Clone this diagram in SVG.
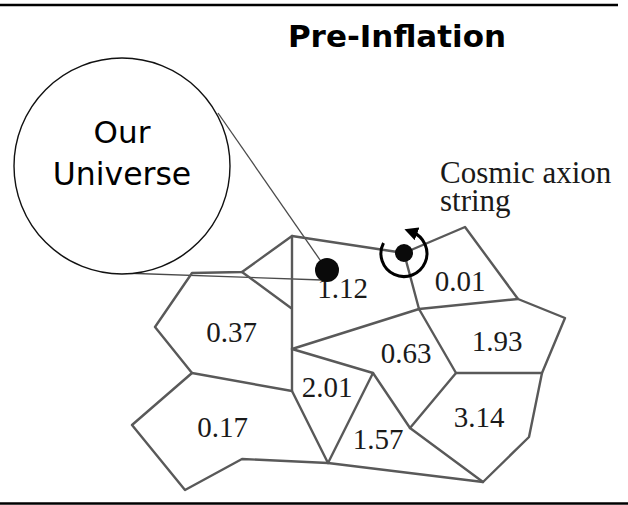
<svg xmlns="http://www.w3.org/2000/svg" width="628" height="505" viewBox="0 0 628 505">
<defs>
<style>
.edge{fill:none;stroke:#595959;stroke-width:2.4;stroke-linejoin:round;stroke-linecap:round}
.thin{fill:none;stroke:#4a4a4a;stroke-width:1.3}
.num{font-family:"Liberation Serif","Times New Roman",serif;font-size:29px;fill:#1a1a1a;text-anchor:middle}
.lbl{font-family:"Liberation Serif","Times New Roman",serif;font-size:31px;fill:#1a1a1a}
.sans{font-family:"DejaVu Sans",Verdana,sans-serif;fill:#000;text-anchor:middle}
</style>
<marker id="ah" viewBox="0 0 10 10" refX="4" refY="5" markerWidth="4.5" markerHeight="4.5" orient="auto">
<path d="M0,0 L10,5 L0,10 Z" fill="#000"/>
</marker>
</defs>
<rect width="628" height="505" fill="#fff"/>
<line x1="0" y1="5" x2="618" y2="5" stroke="#000" stroke-width="2.4"/>
<line x1="0" y1="503.5" x2="628" y2="503.5" stroke="#000" stroke-width="2.4"/>
<text id="title" class="sans" x="397" y="47" font-size="31" font-weight="bold">Pre-Inflation</text>

<g id="connectors">
<line class="thin" x1="218" y1="113" x2="327" y2="270"/>
<line class="thin" x1="122" y1="273" x2="322" y2="280"/>
</g>

<g id="universe">
<circle cx="122" cy="166" r="108" fill="#fff" stroke="#111" stroke-width="1.4"/>
<text class="sans" x="122" y="143" font-size="31">Our</text>
<text class="sans" x="122" y="185" font-size="31.5">Universe</text>
</g>

<g id="network">
<path class="edge" d="M292,236 L404,253 L465,227 L518,299 L565,318 L542,373 L529,437 L483,482 L328,463 L242,459 L185,490 L132,425 L192,373 L155,327 L192,273 L242,272 Z"/>
<path class="edge" d="M292,236 L292,391 L328,463"/>
<path class="edge" d="M242,272 L291,308"/>
<path class="edge" d="M192,373 L292,391"/>
<path class="edge" d="M404,253 L419,309 L518,299"/>
<path class="edge" d="M292,349 L419,309 L456,373 L542,373"/>
<path class="edge" d="M292,349 L373,373 L410,428 L456,373"/>
<path class="edge" d="M373,373 L328,463"/>
<path class="edge" d="M410,428 L483,482"/>
</g>

<g id="regions">
<text class="num" x="342.5" y="298">1.12</text>
<text class="num" x="460" y="291">0.01</text>
<text class="num" x="231.5" y="342">0.37</text>
<text class="num" x="222.5" y="437">0.17</text>
<text class="num" x="497" y="351">1.93</text>
<text class="num" x="406" y="363">0.63</text>
<text class="num" x="327" y="397">2.01</text>
<text class="num" x="378" y="449">1.57</text>
<text class="num" x="479" y="427">3.14</text>
</g>

<g id="our-universe-dot">
<circle cx="327" cy="270" r="12" fill="#0a0a0a"/>
</g>

<g id="axion-string">
<circle cx="404" cy="253" r="9" fill="#0a0a0a"/>
<path d="M383.5,243 A23,23 0 1 0 412,232" fill="none" stroke="#000" stroke-width="3" marker-end="url(#ah)"/>
<text class="lbl" x="440" y="183">Cosmic axion</text>
<text class="lbl" x="440" y="211">string</text>
</g>
</svg>
